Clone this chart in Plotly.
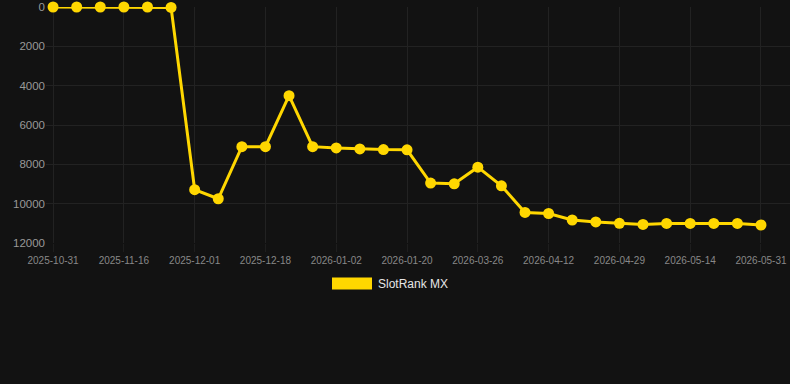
import plotly.graph_objects as go

dates = [
    "2025-10-31", "2025-11-05", "2025-11-11", "2025-11-16", "2025-11-21", "2025-11-26",
    "2025-12-01", "2025-12-07", "2025-12-12", "2025-12-18", "2025-12-23", "2025-12-28",
    "2026-01-02", "2026-01-08", "2026-01-14", "2026-01-20", "2026-02-10", "2026-03-05",
    "2026-03-26", "2026-04-01", "2026-04-07", "2026-04-12", "2026-04-18", "2026-04-23",
    "2026-04-29", "2026-05-04", "2026-05-09", "2026-05-14", "2026-05-20", "2026-05-25",
    "2026-05-31",
]
ranks = [
    0, 0, 0, 0, 0, 20,
    9290, 9750, 7100, 7100, 4510, 7100,
    7165, 7215, 7250, 7260, 8955, 8990,
    8145, 9090, 10445, 10500, 10830, 10930,
    11000, 11055, 11005, 11005, 11005, 11005,
    11085,
]
tick_labels = dates[::3]
y_ticks = [0, 2000, 4000, 6000, 8000, 10000, 12000]
y_tick_text = [str(v) for v in y_ticks]
series_name = "SlotRank MX"
gold = "#FFD700"

fig = go.Figure()
fig.add_trace(go.Scatter(
    x=dates, y=ranks, mode="lines+markers", name=series_name,
    line=dict(color=gold, width=3),
    marker=dict(color=gold, size=11),
    cliponaxis=False, showlegend=False,
))

W = 790 - 46
H = 243.3 - 6.7
# legend swatch and label (as in reference, centered under the plot)
fig.add_shape(type="rect", xref="paper", yref="paper",
              x0=(332 - 46) / W, x1=(372 - 46) / W,
              y0=(243.3 - 290) / H, y1=(243.3 - 278) / H,
              fillcolor=gold, line=dict(width=0))
fig.add_annotation(xref="paper", yref="paper", x=(376 - 46) / W, y=(243.3 - 284.5) / H,
                   text=series_name, showarrow=False, xanchor="left", yanchor="middle",
                   font=dict(size=12, color="#e6e6e6", family="Liberation Sans, Arial"))

fig.update_layout(
    width=790, height=384,
    margin=dict(l=46, r=0, t=7, b=384 - 243),
    paper_bgcolor="#121212", plot_bgcolor="#121212",
    font=dict(family="Liberation Sans, Arial", color="#999999"),
    showlegend=False,
    xaxis=dict(
        type="category", range=[-0.3, 31.23],
        tickmode="array", tickvals=tick_labels, ticktext=tick_labels,
        tickfont=dict(size=10, color="#888888"),
        showgrid=True, gridcolor="#222222", gridwidth=1,
        zeroline=False, showline=False,
        ticks="outside", ticklen=8, tickcolor="#1e1e1e",
    ),
    yaxis=dict(
        range=[12000, 0], tickmode="array", tickvals=y_ticks, ticktext=y_tick_text,
        tickfont=dict(size=11.5, color="#999999"),
        showgrid=True, gridcolor="#222222", gridwidth=1,
        zeroline=False, showline=False, ticks="", ticklen=0,
    ),
)

fig.write_html("out.html")
